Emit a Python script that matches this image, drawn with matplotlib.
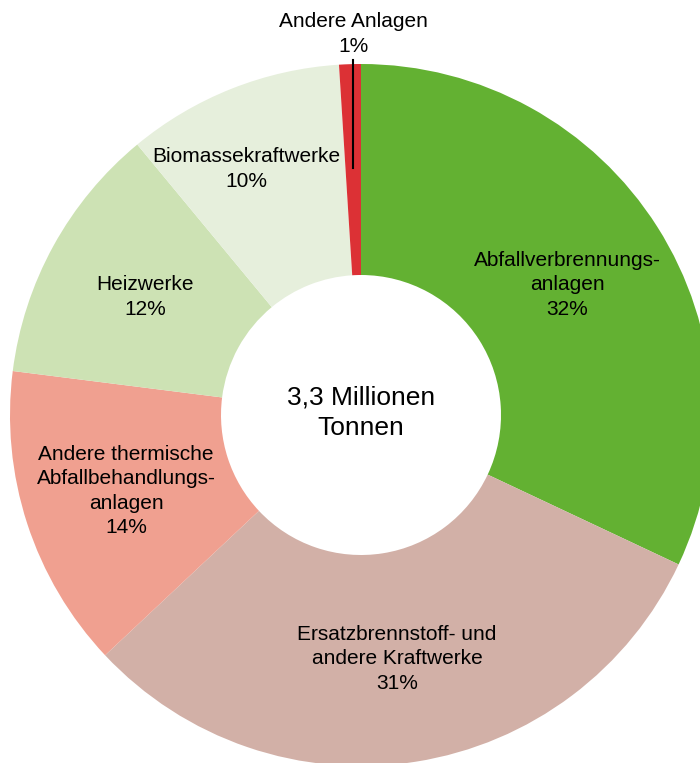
import matplotlib.pyplot as plt

plt.rcParams['font.family'] = ['Liberation Sans', 'DejaVu Sans']

# Share of each plant type (%), clockwise from the top
categories = ['Abfallverbrennungs-\nanlagen', 'Ersatzbrennstoff- und\nandere Kraftwerke',
              'Andere thermische\nAbfallbehandlungs-\nanlagen', 'Heizwerke',
              'Biomassekraftwerke', 'Andere Anlagen']
shares = [32, 31, 14, 12, 10, 1]
colors = ['#63b132', '#d2b0a7', '#f0a090', '#cde2b4', '#e6efdc', '#dc3135']
center_text = '3,3 Millionen\nTonnen'

W, H = 700, 763
fig = plt.figure(figsize=(W / 100, H / 100), dpi=100)
ax = fig.add_axes([0, 0, 1, 1])

cx, cy = 361, H - 415
r_out, r_in = 351, 140
ax.pie(shares, colors=colors, radius=r_out, center=(cx, cy), startangle=90,
       counterclock=False, wedgeprops=dict(width=r_out - r_in, linewidth=0))

# label positions in pixel coords (x, y from top)
label_pos = [(567, 285), (397, 659), (126, 491), (145, 297), (246, 169), (353, 34)]
for name, val, (x, y) in zip(categories, shares, label_pos):
    ax.text(x, H - y, f'{name}\n{val}%', ha='center', va='center',
            fontsize=15, linespacing=1.37)

# leader line for the small slice
ax.plot([353, 353], [H - 60, H - 168], color='black', lw=1.5)

ax.text(cx, cy + 2, center_text, ha='center', va='center', fontsize=19, linespacing=1.36)

ax.set_xlim(0, W)
ax.set_ylim(0, H)
ax.set_aspect('equal')
ax.axis('off')
fig.savefig('out.png', dpi=100)
